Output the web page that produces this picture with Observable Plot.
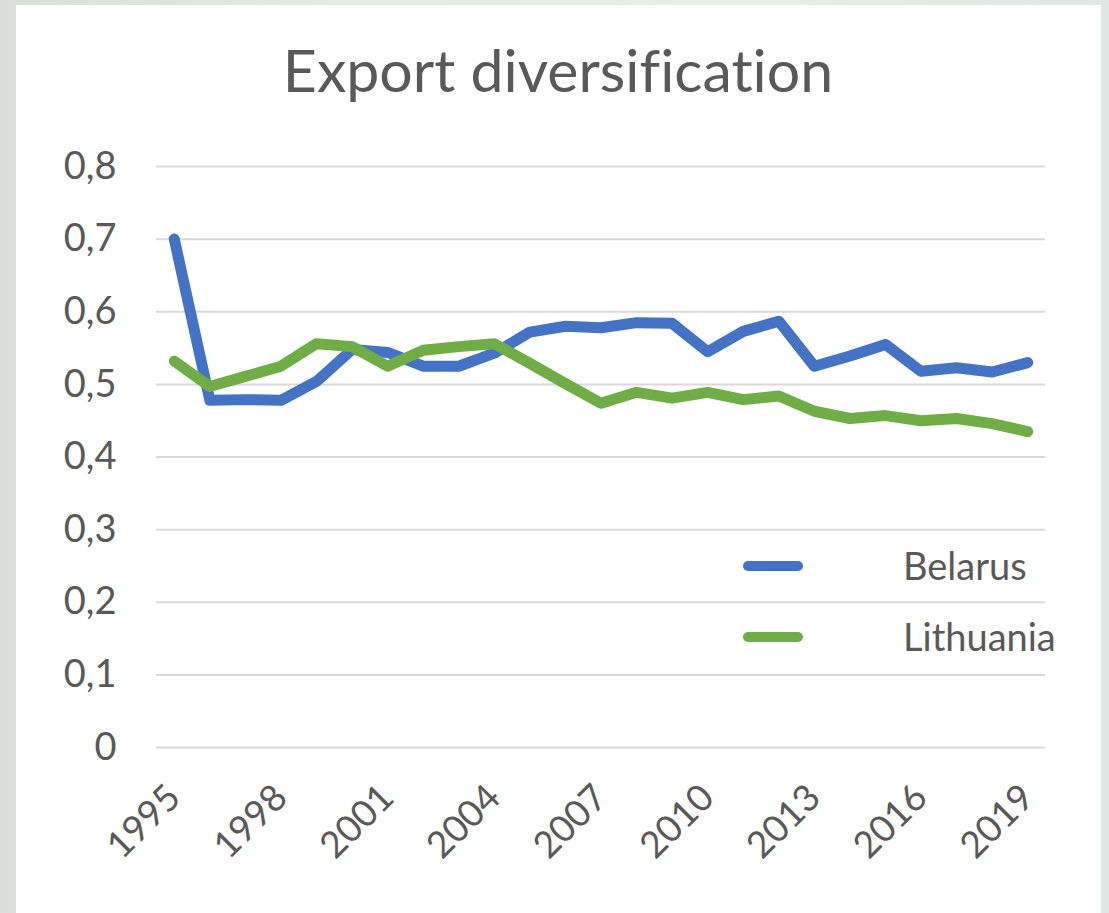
<!DOCTYPE html>
<html>
<head>
<meta charset="utf-8">
<script src="https://cdn.jsdelivr.net/npm/d3@7"></script>
<script src="https://cdn.jsdelivr.net/npm/@observablehq/plot@0.6"></script>
<style>
  html, body { margin: 0; padding: 0; }
  body { width: 1109px; height: 913px; overflow: hidden; position: relative;
         background: linear-gradient(90deg, #d9dedb 0%, #e6eae7 30%, #e9ece9 70%, #dfe6e3 100%);
         font-family: Lato, "Open Sans", sans-serif; font-variant-ligatures: none; }
  #panel { position: absolute; left: 16px; top: 5px; width: 1085px; height: 930px; background: #fff; }
  #title { position: absolute; left: 0; width: 1116px; top: 34px; text-align: center;
           font-size: 59px; color: #595959; font-variant-ligatures: none; }
  #chart { position: absolute; left: 0; top: 0; }
  .leg { position: absolute; font-size: 38px; color: #595959; }
  .sw { position: absolute; width: 60px; height: 10px; border-radius: 5px; }
</style>
</head>
<body>
<div id="panel"></div>
<div id="title">Export diversification</div>
<div id="chart"></div>
<div id="legend"></div>
<script>
const years = d3.range(1995, 2020);
const belarus = [0.700, 0.478, 0.479, 0.478, 0.504, 0.548, 0.544, 0.525, 0.525, 0.543, 0.572, 0.580, 0.578,
                 0.585, 0.584, 0.545, 0.573, 0.587, 0.525, 0.539, 0.555, 0.518, 0.523, 0.517, 0.530];
const lithuania = [0.532, 0.497, 0.511, 0.525, 0.556, 0.552, 0.525, 0.547, 0.552, 0.556, 0.529, 0.501, 0.474,
                   0.489, 0.481, 0.489, 0.479, 0.484, 0.463, 0.453, 0.457, 0.450, 0.453, 0.446, 0.435];
const seriesNames = ["Belarus", "Lithuania"];
const seriesColors = ["#4472C4", "#70AD47"];
const yTicks = [0, 0.1, 0.2, 0.3, 0.4, 0.5, 0.6, 0.7, 0.8];
const xTicks = [1995, 1998, 2001, 2004, 2007, 2010, 2013, 2016, 2019];

const data = [];
years.forEach((y, i) => {
  data.push({year: y, value: belarus[i], country: seriesNames[0]});
});
years.forEach((y, i) => {
  data.push({year: y, value: lithuania[i], country: seriesNames[1]});
});

const fmtY = d => d === 0 ? "0" : d3.format(".1f")(d).replace(".", ",");

const chart = Plot.plot({
  width: 1109,
  height: 913,
  marginLeft: 156,
  marginRight: 64,
  marginTop: 166,
  marginBottom: 166,
  style: {background: "transparent", fontFamily: "Lato, 'Open Sans', sans-serif", color: "#595959"},
  x: {domain: [1994.5, 2019.5]},
  y: {domain: [0, 0.8]},
  color: {domain: seriesNames, range: seriesColors},
  marks: [
    Plot.ruleY(yTicks, {stroke: "#d9d9d9", strokeWidth: 2}),
    Plot.axisY({ticks: yTicks, tickFormat: fmtY, tickSize: 0, tickPadding: 40, fontSize: 38, label: null, fill: "#595959"}),
    Plot.axisX({ticks: xTicks, tickFormat: d => String(d), tickSize: 0, tickPadding: 44, tickRotate: -45, fontSize: 37, label: null, fill: "#595959"}),
    Plot.line(data, {x: "year", y: "value", z: "country", stroke: "country", strokeWidth: 11, strokeLinecap: "round", strokeLinejoin: "round"})
  ]
});
document.getElementById("chart").appendChild(chart);

const legend = document.getElementById("legend");
seriesNames.forEach((name, i) => {
  const top = 566 + i * 71;
  const sw = document.createElement("div");
  sw.className = "sw";
  sw.style.left = "743px";
  sw.style.top = (top - 5) + "px";
  sw.style.background = seriesColors[i];
  legend.appendChild(sw);
  const t = document.createElement("div");
  t.className = "leg";
  t.style.left = "903px";
  t.style.top = (top - 24) + "px";
  t.textContent = name;
  legend.appendChild(t);
});
</script>
</body>
</html>
